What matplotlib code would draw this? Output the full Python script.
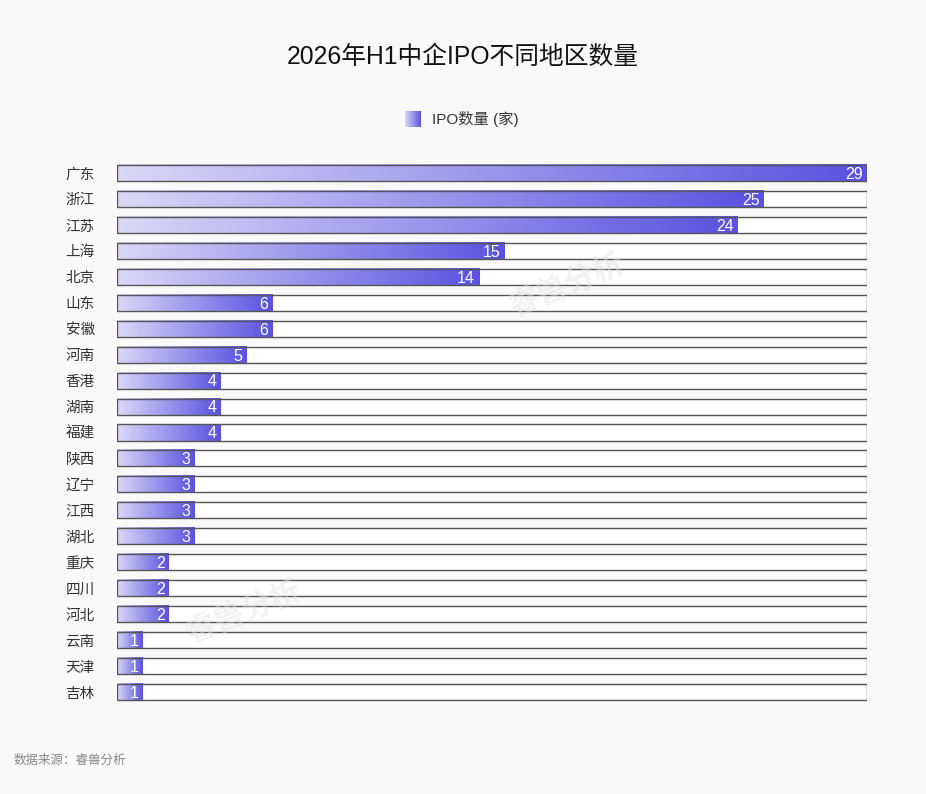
import matplotlib
matplotlib.use("Agg")
import matplotlib.pyplot as plt
import matplotlib.patches as mpatches
from matplotlib.colors import LinearSegmentedColormap
import numpy as np

# latin glyphs from Liberation Sans, CJK falls back to Noto
plt.rcParams['font.family'] = ['Liberation Sans', 'Noto Sans CJK SC']

# data
regions = ['广东', '浙江', '江苏', '上海', '北京', '山东', '安徽', '河南', '香港', '湖南',
           '福建', '陕西', '辽宁', '江西', '湖北', '重庆', '四川', '河北', '云南', '天津', '吉林']
counts = [29, 25, 24, 15, 14, 6, 6, 5, 4, 4, 4, 3, 3, 3, 3, 2, 2, 2, 1, 1, 1]
title = '2026年H1中企IPO不同地区数量'
legend_label = 'IPO数量 (家)'
source = '数据来源：睿兽分析'

bg = '#f9f9f9'
grad = LinearSegmentedColormap.from_list('g', ['#dad8f7', '#5a52e0'])
bar_h = 0.62
xmax = max(counts)

fig = plt.figure(figsize=(9.26, 7.94), dpi=100, facecolor=bg)
ax = fig.add_axes([117 / 926, 89 / 794, 750 / 926, 545 / 794])
ax.set_facecolor(bg)

g = np.linspace(0, 1, 256).reshape(1, -1)
for i, v in enumerate(counts):
    y0 = i - bar_h / 2
    # white track behind
    ax.add_patch(mpatches.Rectangle((0, y0), xmax, bar_h, facecolor='white',
                                    edgecolor='none', zorder=1))
    ax.imshow(g, cmap=grad, aspect='auto', extent=(0, v, i + bar_h / 2, y0),
              zorder=2, interpolation='bicubic')
    ax.add_patch(mpatches.Rectangle((0, y0), xmax, bar_h, facecolor='none',
                                    edgecolor='#555555', linewidth=1.0, zorder=3))
    ax.annotate(str(v), (v, i), xytext=(-3, -1), textcoords='offset points',
                ha='right', va='center', color='white', fontsize=11.5, zorder=6)

ax.set_xlim(0, xmax)
ax.set_ylim(len(regions) - 0.5, -0.5)
ax.set_yticks(range(len(regions)))
ax.set_yticklabels(regions, fontsize=10.5, color='#333333')
ax.tick_params(axis='y', length=0, pad=16)
ax.set_xticks([])
for s in ax.spines.values():
    s.set_visible(False)

# faint watermark
for (wx, wy) in [(0.6, 0.77), (0.17, 0.17)]:
    ax.text(wx, wy, '睿兽分析', transform=ax.transAxes, fontsize=22, color='#e4e4e4',
            alpha=0.45, rotation=22, ha='center', va='center', zorder=5, fontweight='bold')

fig.text(0.5, 1 - 57 / 794, title, ha='center', va='center', fontsize=17.8, color='#111111')

# legend swatch
lax = fig.add_axes([405 / 926, 1 - 127 / 794, 16 / 926, 16 / 794])
lax.imshow(g, cmap=grad, aspect='auto')
lax.axis('off')
fig.text(432 / 926, 1 - 119 / 794, legend_label, ha='left', va='center', fontsize=11,
         color='#333333')

fig.text(14 / 926, 1 - 761 / 794, source, ha='left', va='center', fontsize=9, color='#888888')

fig.savefig('out.png', dpi=100, facecolor=bg)
